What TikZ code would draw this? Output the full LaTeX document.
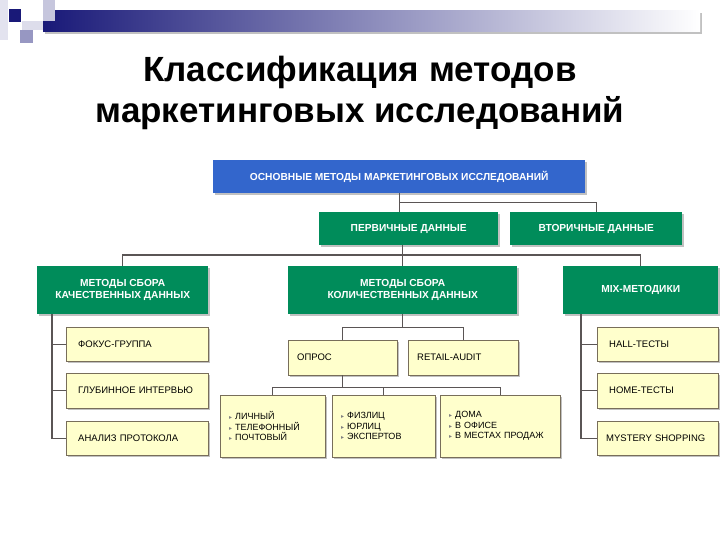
\documentclass[tikz,border=0pt]{standalone}
\usepackage{fontspec}
\setmainfont{Liberation Sans}
\newfontfamily\bulfont{DejaVu Sans}
\definecolor{HeadNavy} {RGB}{25,25,120}
\definecolor{BoxBlue}  {RGB}{51,102,204}
\definecolor{BoxGreen} {RGB}{0,140,90}
\definecolor{ItemFill} {RGB}{255,255,204}
\definecolor{ItemLine} {RGB}{120,110,90}
\definecolor{LineGray} {RGB}{90,85,85}
\usetikzlibrary{calc,shadows}
\newcommand{\itemmark}{{\bulfont\fontsize{6}{6}\selectfont\textcolor{gray}{▸}}\ }

\begin{document}
\begin{tikzpicture}[x=1pt,y=-1pt,
  shade/.style={drop shadow={shadow xshift=2pt,shadow yshift=-2pt,fill=black!30,opacity=.8}},
  headbox/.style={shade,fill=BoxBlue,text=white,anchor=north west,inner sep=0pt,
                  align=center,font=\bfseries\fontsize{10.2}{12}\selectfont},
  groupbox/.style={headbox,fill=BoxGreen},
  itembox/.style={shade,draw=ItemLine,fill=ItemFill,anchor=north west,inner xsep=12pt,
                  inner ysep=0pt,align=left,font=\fontsize{9.5}{11}\selectfont},
  listbox/.style={itembox,inner xsep=9pt,font=\fontsize{9}{10.5}\selectfont},
  conn/.style={LineGray,line width=1.2pt}]
  \useasboundingbox (0,0) rectangle (720,540);
  %% Header decoration
  \fill[HeadNavy!12] (0,0) rectangle (8,40);
  \shade[left color=HeadNavy,right color=white] (43,11) rectangle (700,32);
  \fill[HeadNavy!25] (43,0) rectangle (55,21);
  \fill[HeadNavy!15] (22,21) rectangle (43,30);
  \fill[HeadNavy!45] (20,30) rectangle (33,43);
  \fill[HeadNavy] (9,9) rectangle (21,22);
  %% Title
  \node[align=center,font=\bfseries\fontsize{35}{41}\selectfont] (title) at (360,93)
       {Классификация методов\\маркетинговых исследований};
  %% Upper levels
  \node[headbox,minimum width=372pt,minimum height=33pt] (top) at (213,160)
       {ОСНОВНЫЕ МЕТОДЫ МАРКЕТИНГОВЫХ ИССЛЕДОВАНИЙ};
  \node[groupbox,minimum width=179pt,minimum height=33pt] (prim) at (319,212)
       {ПЕРВИЧНЫЕ ДАННЫЕ};
  \node[groupbox,minimum width=172pt,minimum height=33pt] (sec) at (510,212)
       {ВТОРИЧНЫЕ ДАННЫЕ};
  \node[groupbox,minimum width=171pt,minimum height=48pt] (qual) at (37,266)
       {МЕТОДЫ СБОРА\\КАЧЕСТВЕННЫХ ДАННЫХ};
  \node[groupbox,minimum width=229pt,minimum height=48pt] (quant) at (288,266)
       {МЕТОДЫ СБОРА\\КОЛИЧЕСТВЕННЫХ ДАННЫХ};
  \node[groupbox,minimum width=155pt,minimum height=48pt] (mix) at (563,266)
       {MIX-МЕТОДИКИ};
  %% Qualitative methods
  \node[itembox,text width=118pt,minimum height=34pt] (focus) at (66,327) {ФОКУС-ГРУППА};
  \node[itembox,text width=118pt,minimum height=35pt] (deep)  at (66,373) {ГЛУБИННОЕ ИНТЕРВЬЮ};
  \node[itembox,text width=118pt,minimum height=34pt] (proto) at (66,421) {АНАЛИЗ ПРОТОКОЛА};
  %% Quantitative methods
  \node[itembox,inner xsep=9pt,text width=91pt,minimum height=35pt] (poll)   at (288,340) {ОПРОС};
  \node[itembox,inner xsep=9pt,text width=92pt,minimum height=35pt] (retail) at (408,340) {RETAIL-AUDIT};
  \node[listbox,text width=87pt,minimum height=62pt] (how) at (220,395)
       {\itemmark ЛИЧНЫЙ\\\itemmark ТЕЛЕФОННЫЙ\\\itemmark ПОЧТОВЫЙ};
  \node[listbox,text width=85pt,minimum height=62pt] (whom) at (332,395)
       {\itemmark ФИЗЛИЦ\\\itemmark ЮРЛИЦ\\\itemmark ЭКСПЕРТОВ};
  \node[listbox,text width=102pt,minimum height=62pt] (where) at (440,395)
       {\itemmark ДОМА\\\itemmark В ОФИСЕ\\\itemmark В МЕСТАХ ПРОДАЖ};
  %% Mix methods
  \node[itembox,text width=97pt,minimum height=34pt] (hall) at (597,327) {HALL-ТЕСТЫ};
  \node[itembox,text width=97pt,minimum height=35pt] (home) at (597,373) {HOME-ТЕСТЫ};
  \node[itembox,inner xsep=9pt,text width=103pt,minimum height=34pt] (myst) at (597,421)
       {\mbox{MYSTERY SHOPPING}};
  %% Connectors
  \draw[conn] (top.south) -- (top.south |- prim.north);
  \draw[conn] (top.south) ++(0,9) -| (sec.north);
  \draw[conn] (quant.north |- prim.south) -- (quant.north);
  \draw[conn] (qual.north) -- ++(0,-11) -| (mix.north);
  \coordinate (ltree) at ([xshift=15pt]qual.south west);
  \draw[conn] (ltree) |- (proto.west);
  \draw[conn] (ltree |- focus.west) -- (focus.west);
  \draw[conn] (ltree |- deep.west) -- (deep.west);
  \coordinate (rtree) at ([xshift=18pt]mix.south west);
  \draw[conn] (rtree) |- (myst.west);
  \draw[conn] (rtree |- hall.west) -- (hall.west);
  \draw[conn] (rtree |- home.west) -- (home.west);
  \draw[conn] (quant.south) -- ++(0,13) coordinate (qj);
  \draw[conn] (poll.north) |- (qj) -| (retail.north);
  \draw[conn] (poll.south) -- ++(0,12) coordinate (pj);
  \draw[conn] (how.north) |- (pj) -| (where.north);
  \draw[conn] (whom.north) -- (whom.north |- pj);
\end{tikzpicture}
\end{document}
